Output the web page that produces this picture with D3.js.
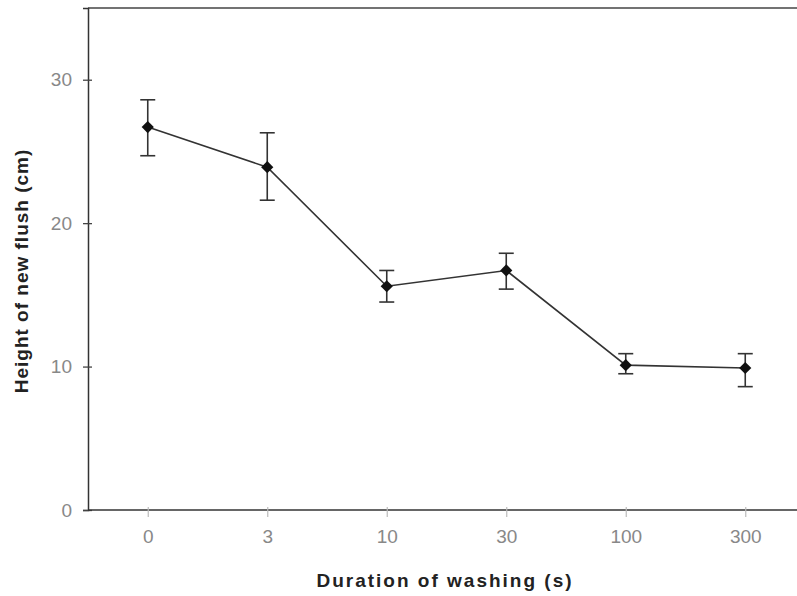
<!DOCTYPE html>
<html>
<head>
<meta charset="utf-8">
<script src="https://cdn.jsdelivr.net/npm/d3@7"></script>
<style>
  body { margin: 0; background: #fff; }
  svg { display: block; }
</style>
</head>
<body>
<div id="chart"></div>
<script>
// washing durations (s), shown as evenly spaced categories
var durations = ["0", "3", "10", "30", "100", "300"];
// mean height of new flush (cm)
var means = [26.7, 23.9, 15.6, 16.7, 10.1, 9.9];
// error bar ends
var upper = [28.6, 26.3, 16.7, 17.9, 10.9, 10.9];
var lower = [24.7, 21.6, 14.5, 15.4, 9.5, 8.6];
var yTicks = [0, 10, 20, 30];

var width = 797, height = 596;
var margin = {left: 88, top: 8, right: -8, bottom: 86};

var svg = d3.select("#chart").append("svg")
  .attr("width", width)
  .attr("height", height);

var x = d3.scalePoint()
  .domain(durations)
  .range([margin.left, width - margin.right])
  .padding(0.5);

var y = d3.scaleLinear()
  .domain([0, 35])
  .range([height - margin.bottom, margin.top]);

var datas = durations.map(function(d, i){
  return {label: d, mean: means[i], hi: upper[i], lo: lower[i]};
});

// top frame line
svg.append("line")
  .attr("x1", margin.left).attr("x2", width)
  .attr("y1", y(35)).attr("y2", y(35))
  .attr("stroke", "#444").attr("stroke-width", 1.6);

// y axis
var yAxis = svg.append("g")
  .attr("transform", "translate(" + margin.left + ",0)")
  .call(d3.axisLeft(y).tickValues(yTicks).tickSize(5).tickPadding(11));
yAxis.select(".domain").attr("stroke", "#333").attr("stroke-width", 1.5);
yAxis.selectAll(".tick line").attr("stroke", "#444").attr("stroke-width", 1.3).attr("x2", 4).attr("x1", -5);
yAxis.selectAll(".tick text")
  .attr("fill", "#888")
  .style("font-family", "Liberation Sans, Arial, sans-serif")
  .style("font-size", "19px");

// x axis
var xAxis = svg.append("g")
  .attr("transform", "translate(0," + y(0) + ")")
  .call(d3.axisBottom(x).tickSize(0).tickPadding(20));
xAxis.select(".domain").attr("stroke", "#333").attr("stroke-width", 1.5)
  .attr("d", "M" + margin.left + ",0H" + width);
xAxis.selectAll(".tick line").attr("stroke", "#bbb").attr("stroke-width", 1.2)
  .attr("y1", -3).attr("y2", 7);
xAxis.selectAll(".tick text")
  .attr("fill", "#888")
  .style("font-family", "Liberation Sans, Arial, sans-serif")
  .style("font-size", "19px");

// connecting line
var line = d3.line()
  .x(function(d){ return x(d.label); })
  .y(function(d){ return y(d.mean); });

svg.append("path")
  .datum(datas)
  .attr("d", line)
  .attr("fill", "none")
  .attr("stroke", "#333")
  .attr("stroke-width", 1.6);

// error bars
var bars = svg.selectAll(".err")
  .data(datas)
  .enter()
  .append("g")
  .attr("class", "err")
  .attr("stroke", "#333")
  .attr("stroke-width", 1.6);

bars.append("line")
  .attr("x1", function(d){ return x(d.label); })
  .attr("x2", function(d){ return x(d.label); })
  .attr("y1", function(d){ return y(d.hi); })
  .attr("y2", function(d){ return y(d.lo); });
bars.append("line")
  .attr("x1", function(d){ return x(d.label) - 7.5; })
  .attr("x2", function(d){ return x(d.label) + 7.5; })
  .attr("y1", function(d){ return y(d.hi); })
  .attr("y2", function(d){ return y(d.hi); });
bars.append("line")
  .attr("x1", function(d){ return x(d.label) - 7.5; })
  .attr("x2", function(d){ return x(d.label) + 7.5; })
  .attr("y1", function(d){ return y(d.lo); })
  .attr("y2", function(d){ return y(d.lo); });

// diamond markers
svg.selectAll(".pt")
  .data(datas)
  .enter()
  .append("path")
  .attr("class", "pt")
  .attr("d", d3.symbol().type(d3.symbolDiamond2).size(95))
  .attr("transform", function(d){ return "translate(" + x(d.label) + "," + y(d.mean) + ")"; })
  .attr("fill", "#111");

// axis titles
svg.append("text")
  .attr("x", 445).attr("y", 587)
  .attr("text-anchor", "middle")
  .attr("fill", "#222")
  .style("font-family", "Liberation Sans, Arial, sans-serif")
  .style("font-weight", "bold")
  .style("font-size", "19px")
  .style("letter-spacing", "2px")
  .text("Duration of washing (s)");

svg.append("text")
  .attr("transform", "translate(28,271) rotate(-90)")
  .attr("text-anchor", "middle")
  .attr("fill", "#222")
  .style("font-family", "Liberation Sans, Arial, sans-serif")
  .style("font-weight", "bold")
  .style("font-size", "19px")
  .style("letter-spacing", "1px")
  .text("Height of new flush (cm)");
</script>
</body>
</html>
